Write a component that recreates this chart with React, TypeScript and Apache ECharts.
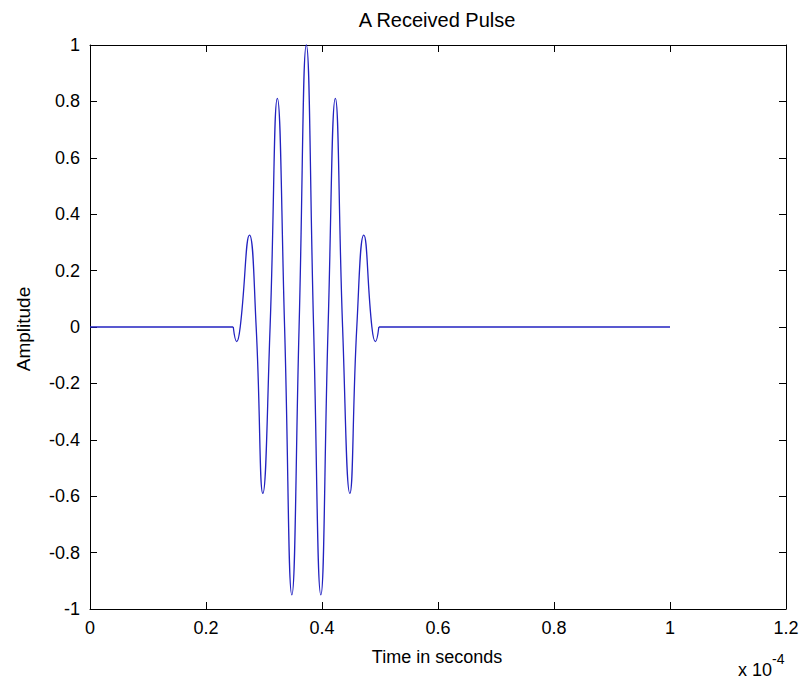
import React, { useEffect, useRef } from "react";
import * as echarts from "echarts";

// Time values are in units of 1e-4 seconds (axis shows "x 10^-4")
const xTicks = [0, 0.2, 0.4, 0.6, 0.8, 1, 1.2];
const yTicks = [-1, -0.8, -0.6, -0.4, -0.2, 0, 0.2, 0.4, 0.6, 0.8, 1];

const baseLeftTime = [0, 0.247];
const baseLeftAmp = [0, 0];
const baseRightTime = [0.498, 1.0];
const baseRightAmp = [0, 0];

const pulseTime = [
  0.247, 0.253, 0.259, 0.275, 0.2865, 0.298, 0.3105, 0.323, 0.3355, 0.348,
  0.3605, 0.373, 0.3855, 0.398, 0.4105, 0.423, 0.4355, 0.448, 0.46, 0.472,
  0.486, 0.492, 0.498,
];
const pulseAmp = [
  0, -0.052, 0, 0.326, 0, -0.59, 0, 0.811, 0, -0.95, 0, 1.0, 0, -0.95, 0,
  0.811, 0, -0.59, 0, 0.326, 0, -0.052, 0,
];

const titleText = "A Received Pulse";
const xLabel = "Time in seconds";
const yLabel = "Amplitude";
const expBase = "x 10";
const expPower = "-4";

const FONT = "'Liberation Sans', Arial, Helvetica, sans-serif";
const LINE_COLOR = "#2222c0";

function zip(xs: number[], ys: number[]) {
  return xs.map((x, i) => [x, ys[i]]);
}

export default function App() {
  const ref = useRef<HTMLDivElement>(null);

  useEffect(() => {
    if (!ref.current) return;
    const chart = echarts.init(ref.current, undefined, { renderer: "svg" });
    const axisLine = { show: true, onZero: false, lineStyle: { color: "#000", width: 1 } };
    const tick = { show: true, inside: true, length: 7, lineStyle: { color: "#000", width: 1 } };
    const label = { color: "#000", fontSize: 18, fontFamily: FONT };
    const xMin = xTicks[0];
    const xMax = xTicks[xTicks.length - 1];
    const yMin = yTicks[0];
    const yMax = yTicks[yTicks.length - 1];
    const lineSeries = (data: number[][], smooth: boolean) => ({
      type: "line",
      data,
      smooth,
      showSymbol: false,
      symbol: "none",
      lineStyle: { color: LINE_COLOR, width: 1.3 },
      xAxisIndex: 0,
      yAxisIndex: 0,
      clip: false,
    });
    chart.setOption({
      animation: false,
      backgroundColor: "#fff",
      grid: { left: 90, right: 15, top: 45, bottom: 70, outerBoundsMode: "none" },
      xAxis: [
        {
          type: "value",
          position: "bottom",
          min: xMin,
          max: xMax,
          interval: 0.2,
          axisLine,
          axisTick: tick,
          axisLabel: { ...label, margin: 10 },
          splitLine: { show: false },
        },
        {
          type: "value",
          position: "top",
          min: xMin,
          max: xMax,
          interval: 0.2,
          axisLine,
          axisTick: tick,
          axisLabel: { show: false },
          splitLine: { show: false },
        },
      ],
      yAxis: [
        {
          type: "value",
          position: "left",
          min: yMin,
          max: yMax,
          interval: 0.2,
          axisLine,
          axisTick: tick,
          axisLabel: { ...label, margin: 10 },
          splitLine: { show: false },
        },
        {
          type: "value",
          position: "right",
          min: yMin,
          max: yMax,
          interval: 0.2,
          axisLine,
          axisTick: tick,
          axisLabel: { show: false },
          splitLine: { show: false },
        },
      ],
      series: [
        lineSeries(zip(baseLeftTime, baseLeftAmp), false),
        lineSeries(zip(pulseTime, pulseAmp), true),
        lineSeries(zip(baseRightTime, baseRightAmp), false),
      ],
      graphic: [
        {
          type: "text",
          x: 437,
          y: 20,
          style: {
            text: titleText,
            fill: "#000",
            font: `20px ${FONT}`,
            align: "center",
            verticalAlign: "middle",
          },
        },
        {
          type: "text",
          x: 437,
          y: 657,
          style: {
            text: xLabel,
            fill: "#000",
            font: `18px ${FONT}`,
            align: "center",
            verticalAlign: "middle",
          },
        },
        {
          type: "text",
          x: 23,
          y: 329,
          rotation: Math.PI / 2,
          style: {
            text: yLabel,
            fill: "#000",
            font: `19px ${FONT}`,
            align: "center",
            verticalAlign: "middle",
          },
        },
        {
          type: "text",
          x: 772,
          y: 670,
          style: {
            text: expBase,
            fill: "#000",
            font: `18px ${FONT}`,
            align: "right",
            verticalAlign: "middle",
          },
        },
        {
          type: "text",
          x: 772,
          y: 659,
          style: {
            text: expPower,
            fill: "#000",
            font: `14px ${FONT}`,
            align: "left",
            verticalAlign: "middle",
          },
        },
      ],
    });
    return () => chart.dispose();
  }, []);

  return (
    <div
      ref={ref}
      style={{ position: "fixed", left: 0, top: 0, width: 801, height: 679, background: "#fff" }}
    />
  );
}
